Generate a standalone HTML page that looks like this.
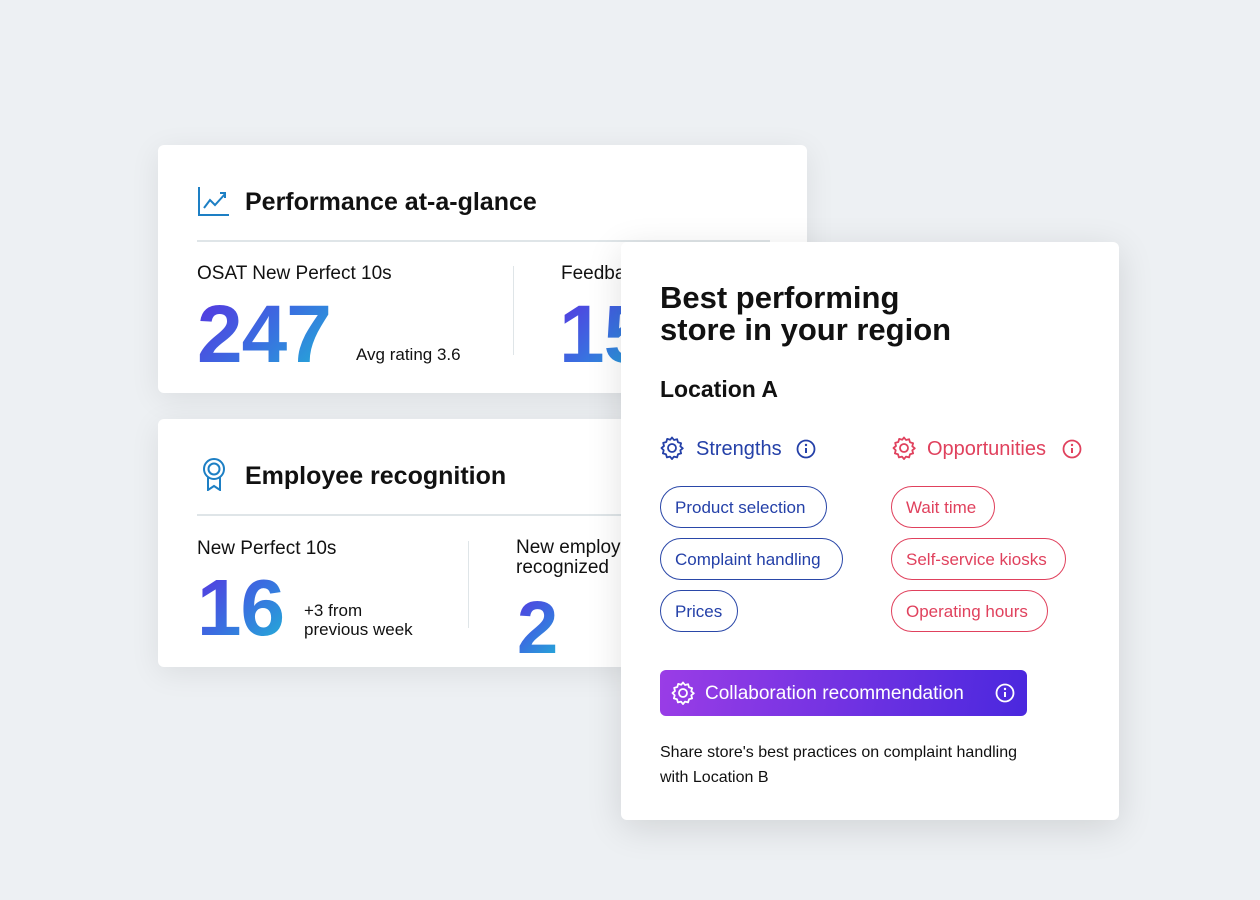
<!DOCTYPE html>
<html><head><meta charset="utf-8"><style>
*{margin:0;padding:0;box-sizing:border-box}
body{width:1260px;height:900px;background:#edf0f3;position:relative;overflow:hidden;font-family:"Liberation Sans",sans-serif;color:#111}
.card{position:absolute;background:#fff;border-radius:6px;box-shadow:0 6px 30px rgba(0,0,0,0.08)}
.a{position:absolute;white-space:nowrap}
.big{font-weight:bold;background:linear-gradient(135deg,#5a2ee0 0%,#3a6ee0 50%,#1fb8d6 100%);-webkit-background-clip:text;background-clip:text;color:transparent;letter-spacing:-1px}
.pill{position:absolute;height:42px;border:1.5px solid #2a47a8;border-radius:21px;color:#2440a8;font-size:17px;line-height:41px;padding:0 14px;white-space:nowrap}
.pill.r{border-color:#e0415d;color:#e0415d}
</style></head><body>
<div class="card" style="left:158px;top:145px;width:649px;height:248px">
  <svg class="a" style="left:40px;top:42px" width="31" height="29" viewBox="0 0 31 29"><path d="M1 0V28H31" fill="none" stroke="#1d7fc4" stroke-width="2"/><path d="M6 21L12 13L17 18L27 7M22 6H27V11" fill="none" stroke="#1d7fc4" stroke-width="2"/></svg>
  <div class="a" style="left:87px;top:43px;font-size:25px;font-weight:bold">Performance at-a-glance</div>
  <div class="a" style="left:39px;top:95px;width:573px;height:2px;background:#dfe5e8"></div>
  <div class="a" style="left:39px;top:118px;font-size:19px">OSAT New Perfect 10s</div>
  <div class="a big" style="left:39px;top:143px;font-size:82px">247</div>
  <div class="a" style="left:198px;top:200px;font-size:17px">Avg rating 3.6</div>
  <div class="a" style="left:355px;top:121px;width:1px;height:89px;background:#dfe5e8"></div>
  <div class="a" style="left:403px;top:118px;font-size:19px">Feedback</div>
  <div class="a big" style="left:401px;top:143px;font-size:82px">15</div>
</div>
<div class="card" style="left:158px;top:419px;width:480px;height:248px">
  <svg class="a" style="left:42px;top:38px" width="28" height="34" viewBox="0 0 28 34"><circle cx="14" cy="12" r="10" fill="none" stroke="#1d7fc4" stroke-width="2"/><circle cx="14" cy="12" r="5.5" fill="none" stroke="#1d7fc4" stroke-width="2"/><path d="M8 20V33L14 29L20 33V20" fill="none" stroke="#1d7fc4" stroke-width="2"/></svg>
  <div class="a" style="left:87px;top:43px;font-size:25px;font-weight:bold">Employee recognition</div>
  <div class="a" style="left:39px;top:95px;width:450px;height:2px;background:#dfe5e8"></div>
  <div class="a" style="left:39px;top:119px;font-size:19px">New Perfect 10s</div>
  <div class="a big" style="left:39px;top:143px;font-size:80px">16</div>
  <div class="a" style="left:146px;top:182px;font-size:17px;line-height:19px">+3 from<br>previous week</div>
  <div class="a" style="left:310px;top:122px;width:1px;height:87px;background:#dfe5e8"></div>
  <div class="a" style="left:358px;top:119px;font-size:19px;line-height:20px">New employees<br>recognized</div>
  <div class="a big" style="left:359px;top:166px;font-size:74px">2</div>
</div>
<div class="card" style="left:621px;top:242px;width:498px;height:578px;box-shadow:0 8px 36px rgba(0,0,0,0.12)">
  <div class="a" style="left:39px;top:40px;font-size:31px;font-weight:bold;line-height:32px">Best performing<br>store in your region</div>
  <div class="a" style="left:39px;top:134px;font-size:23px;font-weight:bold">Location A</div>
  <svg class="a" style="left:39px;top:194px" width="24" height="24" viewBox="0 0 24 24"><path d="M12 1.5l2 2.5 3.1-.8.9 3.1 3.1.9-.8 3.1 2.5 2-2.5 2 .8 3.1-3.1.9-.9 3.1-3.1-.8-2 2.5-2-2.5-3.1.8-.9-3.1-3.1-.9.8-3.1L1.5 12 4 10l-.8-3.1 3.1-.9.9-3.1 3.1.8z" fill="none" stroke="#2440a8" stroke-width="1.8" stroke-linejoin="round"/><circle cx="12" cy="12" r="4" fill="none" stroke="#2440a8" stroke-width="1.8"/></svg>
  <div class="a" style="left:75px;top:196px;font-size:20px;color:#2440a8">Strengths</div>
  <svg class="a" style="left:175px;top:197px" width="20" height="20" viewBox="0 0 20 20"><circle cx="10" cy="10" r="8.5" fill="none" stroke="#2440a8" stroke-width="1.8"/><path d="M10 9v5" stroke="#2440a8" stroke-width="2"/><circle cx="10" cy="6" r="1.2" fill="#2440a8"/></svg>
  <svg class="a" style="left:271px;top:194px" width="24" height="24" viewBox="0 0 24 24"><path d="M12 1.5l2 2.5 3.1-.8.9 3.1 3.1.9-.8 3.1 2.5 2-2.5 2 .8 3.1-3.1.9-.9 3.1-3.1-.8-2 2.5-2-2.5-3.1.8-.9-3.1-3.1-.9.8-3.1L1.5 12 4 10l-.8-3.1 3.1-.9.9-3.1 3.1.8z" fill="none" stroke="#e0415d" stroke-width="1.8" stroke-linejoin="round"/><circle cx="12" cy="12" r="4" fill="none" stroke="#e0415d" stroke-width="1.8"/></svg>
  <div class="a" style="left:306px;top:196px;font-size:20px;color:#e0415d">Opportunities</div>
  <svg class="a" style="left:441px;top:197px" width="20" height="20" viewBox="0 0 20 20"><circle cx="10" cy="10" r="8.5" fill="none" stroke="#e0415d" stroke-width="1.8"/><path d="M10 9v5" stroke="#e0415d" stroke-width="2"/><circle cx="10" cy="6" r="1.2" fill="#e0415d"/></svg>
  <div class="pill" style="left:39px;top:244px;width:167px">Product selection</div>
  <div class="pill" style="left:39px;top:296px;width:183px">Complaint handling</div>
  <div class="pill" style="left:39px;top:348px;width:78px">Prices</div>
  <div class="pill r" style="left:270px;top:244px;width:104px">Wait time</div>
  <div class="pill r" style="left:270px;top:296px;width:175px">Self-service kiosks</div>
  <div class="pill r" style="left:270px;top:348px;width:157px">Operating hours</div>
  <div class="a" style="left:39px;top:428px;width:367px;height:46px;border-radius:6px;background:linear-gradient(100deg,#9a3de6,#4a28de)">
    <svg class="a" style="left:11px;top:11px" width="24" height="24" viewBox="0 0 24 24"><path d="M12 1.5l2 2.5 3.1-.8.9 3.1 3.1.9-.8 3.1 2.5 2-2.5 2 .8 3.1-3.1.9-.9 3.1-3.1-.8-2 2.5-2-2.5-3.1.8-.9-3.1-3.1-.9.8-3.1L1.5 12 4 10l-.8-3.1 3.1-.9.9-3.1 3.1.8z" fill="none" stroke="#fff" stroke-width="1.8" stroke-linejoin="round"/><circle cx="12" cy="12" r="4" fill="none" stroke="#fff" stroke-width="1.8"/></svg>
    <div class="a" style="left:45px;top:13px;font-size:19px;color:#fff">Collaboration recommendation</div>
    <svg class="a" style="left:335px;top:13px" width="20" height="20" viewBox="0 0 20 20"><circle cx="10" cy="10" r="8.5" fill="none" stroke="#fff" stroke-width="1.8"/><path d="M10 9v5" stroke="#fff" stroke-width="2"/><circle cx="10" cy="6" r="1.2" fill="#fff"/></svg>
  </div>
  <div class="a" style="left:39px;top:498px;font-size:16px;line-height:25px">Share store's best practices on complaint handling<br>with Location B</div>
</div>
</body></html>
